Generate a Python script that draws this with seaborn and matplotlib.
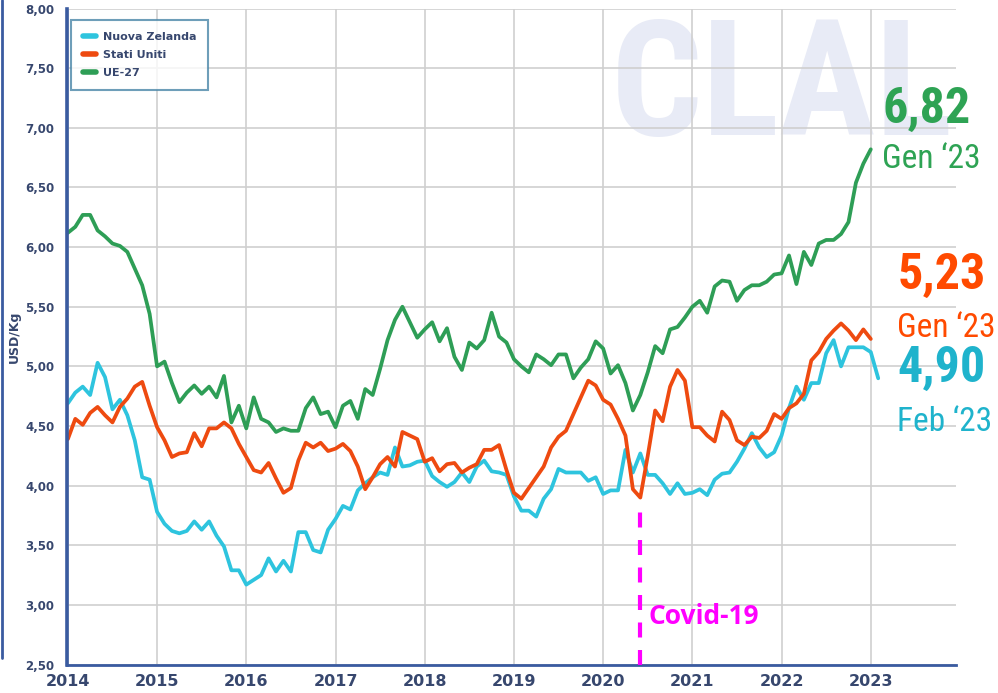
import numpy as np
import pandas as pd
import seaborn as sns
import matplotlib.pyplot as plt
from matplotlib.lines import Line2D

# monthly prices USD/Kg, Jan 2014 onwards
nz = [4.69, 4.78, 4.83, 4.76, 5.03, 4.91, 4.64, 4.72, 4.59, 4.38, 4.07, 4.05,
      3.78, 3.68, 3.62, 3.60, 3.62, 3.70, 3.63, 3.70, 3.58, 3.49, 3.29, 3.29,
      3.17, 3.21, 3.25, 3.39, 3.28, 3.37, 3.28, 3.61, 3.61, 3.46, 3.44, 3.63,
      3.72, 3.83, 3.80, 3.96, 4.02, 4.07, 4.11, 4.09, 4.32, 4.16, 4.17, 4.20,
      4.21, 4.08, 4.03, 3.99, 4.03, 4.11, 4.03, 4.16, 4.21, 4.12, 4.11, 4.09,
      3.91, 3.79, 3.79, 3.74, 3.89, 3.97, 4.14, 4.11, 4.11, 4.11, 4.04, 4.07,
      3.93, 3.96, 3.96, 4.30, 4.11, 4.27, 4.09, 4.09, 4.02, 3.93, 4.02, 3.93,
      3.94, 3.97, 3.92, 4.05, 4.10, 4.11, 4.20, 4.31, 4.44, 4.32, 4.24, 4.28,
      4.42, 4.65, 4.83, 4.72, 4.86, 4.86, 5.11, 5.22, 5.00, 5.16, 5.16, 5.16,
      5.12, 4.90]
us = [4.39, 4.56, 4.51, 4.61, 4.66, 4.59, 4.53, 4.66, 4.73, 4.83, 4.87, 4.67,
      4.49, 4.38, 4.24, 4.27, 4.28, 4.44, 4.33, 4.48, 4.48, 4.53, 4.48, 4.35,
      4.24, 4.13, 4.11, 4.19, 4.06, 3.94, 3.98, 4.21, 4.36, 4.32, 4.36, 4.29,
      4.31, 4.35, 4.29, 4.16, 3.97, 4.07, 4.18, 4.24, 4.16, 4.45, 4.42, 4.39,
      4.20, 4.23, 4.12, 4.18, 4.19, 4.11, 4.15, 4.18, 4.30, 4.30, 4.34, 4.13,
      3.94, 3.89, 3.98, 4.07, 4.16, 4.32, 4.41, 4.46, 4.60, 4.74, 4.88, 4.84,
      4.72, 4.68, 4.56, 4.42, 3.97, 3.90, 4.25, 4.63, 4.54, 4.83, 4.97, 4.88,
      4.49, 4.49, 4.42, 4.37, 4.62, 4.55, 4.38, 4.34, 4.41, 4.40, 4.46, 4.60,
      4.56, 4.65, 4.69, 4.77, 5.05, 5.12, 5.23, 5.30, 5.36, 5.30, 5.22, 5.31,
      5.23]
eu = [6.12, 6.17, 6.27, 6.27, 6.14, 6.09, 6.03, 6.01, 5.96, 5.82, 5.68, 5.44,
      5.00, 5.04, 4.86, 4.70, 4.78, 4.84, 4.77, 4.83, 4.74, 4.92, 4.53, 4.67,
      4.48, 4.74, 4.56, 4.53, 4.45, 4.48, 4.46, 4.46, 4.65, 4.74, 4.60, 4.62,
      4.49, 4.67, 4.71, 4.56, 4.81, 4.76, 4.98, 5.22, 5.39, 5.50, 5.37, 5.24,
      5.31, 5.37, 5.21, 5.32, 5.08, 4.97, 5.20, 5.15, 5.22, 5.45, 5.25, 5.20,
      5.06, 5.00, 4.95, 5.10, 5.06, 5.01, 5.10, 5.10, 4.90, 4.99, 5.06, 5.21,
      5.15, 4.94, 5.01, 4.86, 4.63, 4.76, 4.95, 5.17, 5.11, 5.31, 5.33, 5.41,
      5.50, 5.55, 5.45, 5.67, 5.72, 5.71, 5.55, 5.64, 5.68, 5.68, 5.71, 5.77,
      5.78, 5.93, 5.69, 5.96, 5.85, 6.03, 6.06, 6.06, 6.11, 6.21, 6.54, 6.70,
      6.82]
series_names = ['Nuova Zelanda', 'Stati Uniti', 'UE-27']
last_labels = ['Feb \u201823', 'Gen \u201823', 'Gen \u201823']
years = list(range(2014, 2024))
y_ticks = [2.5, 3.0, 3.5, 4.0, 4.5, 5.0, 5.5, 6.0, 6.5, 7.0, 7.5, 8.0]
covid_date = 2020 + 5 / 12
covid_top = 3.81

line_colors = {'Nuova Zelanda': '#2ec4de', 'Stati Uniti': '#ee4a10', 'UE-27': '#2e9e56'}
text_colors = {'Nuova Zelanda': '#1fb3cc', 'Stati Uniti': '#ff4a00', 'UE-27': '#2ea354'}
navy = '#37476e'
blue = '#3a5ba0'
narrow = ['Roboto Condensed', 'Liberation Sans Narrow', 'DejaVu Sans Condensed', 'Roboto']

frames = []
for name, vals in zip(series_names, [nz, us, eu]):
    t = 2014 + np.arange(len(vals)) / 12
    frames.append(pd.DataFrame({'date': t, 'price': vals, 'serie': name}))
df = pd.concat(frames, ignore_index=True)

sns.set_theme(style='white')
plt.rcParams['font.family'] = ['DejaVu Sans']

fig = plt.figure(figsize=(9.98, 6.93), dpi=100)
ax = fig.add_axes([0.0671, 0.0411, 0.8908, 0.9465])

# watermark
ax.text(0.612, 0.992, 'CLAL', transform=ax.transAxes, ha='left', va='top',
        family=narrow, fontstretch='condensed', fontweight='bold', fontsize=116,
        color='#e8ebf6', zorder=0.1)

sns.lineplot(data=df, x='date', y='price', hue='serie', hue_order=series_names,
             palette=line_colors, linewidth=2.7, ax=ax)

ax.set_xlim(2013.99, 2023.955)
ax.set_ylim(2.5, 8.0)
ax.set_xticks(years)
ax.set_xticklabels([str(y) for y in years])
ax.set_yticks(y_ticks)
ax.set_yticklabels([f'{v:.2f}'.replace('.', ',') for v in y_ticks])
ax.set_axisbelow(True)
ax.grid(True, color='#cfcfcf', linewidth=1.2)

for s in ['top', 'right']:
    ax.spines[s].set_visible(False)
ax.spines['left'].set_color(blue)
ax.spines['left'].set_linewidth(2.6)
ax.spines['bottom'].set_color(blue)
ax.spines['bottom'].set_linewidth(2)

ax.tick_params(axis='x', length=4, width=1.2, color=blue, pad=3,
               labelsize=11.5, labelcolor=navy)
ax.tick_params(axis='y', length=0, pad=9, labelsize=8.5, labelcolor=navy)
for lab in ax.get_xticklabels() + ax.get_yticklabels():
    lab.set_fontweight('bold')

ax.set_xlabel('')
ax.set_ylabel('USD/Kg', fontsize=9, fontweight='bold', color=navy)
ax.yaxis.set_label_coords(-0.052, 0.5)

# legend
sns.move_legend(ax, 'upper left', bbox_to_anchor=(0.004, 0.983), title=None,
                frameon=True, fancybox=False, fontsize=8, handlelength=1.2,
                handletextpad=0.6, labelspacing=0.72, borderpad=1.1,
                borderaxespad=0)
leg = ax.get_legend()
leg.get_frame().set_edgecolor('#4a86a8')
leg.get_frame().set_linewidth(1.5)
for h in leg.legend_handles:
    h.set_linewidth(4)
for t in leg.get_texts():
    t.set_color(navy)
    t.set_fontweight('bold')

# covid marker
ax.vlines(covid_date, 2.5, covid_top, colors='#ff00ff', linewidth=3,
          linestyles=(0, (3.6, 3)), zorder=3)
ax.annotate('Covid-19', (covid_date, 2.90), xytext=(6, 0), textcoords='offset points',
            va='center', ha='left', color='#ff00ff', fontsize=19,
            family='Open Sans', fontweight='bold')

# last values
pos = {'UE-27': (0.917, 0.825, 0.757),
       'Stati Uniti': (0.934, 0.572, 0.499),
       'Nuova Zelanda': (0.934, 0.431, 0.356)}
for name, vals, lab in zip(series_names, [nz, us, eu], last_labels):
    x, y1, y2 = pos[name]
    ax.text(x, y1, f'{vals[-1]:.2f}'.replace('.', ','), transform=ax.transAxes,
            ha='left', va='baseline', family=narrow, fontstretch='condensed',
            fontweight='bold', fontsize=36, color=text_colors[name], clip_on=False)
    ax.text(x, y2, lab, transform=ax.transAxes, ha='left', va='baseline',
            family=narrow, fontstretch='condensed', fontsize=24,
            color=text_colors[name], clip_on=False)

# outer frame line at left edge
fig.add_artist(Line2D([0.002, 0.002], [1.0, 1 - 658 / 693], color=blue,
                      linewidth=2, transform=fig.transFigure))

fig.savefig('out.png', dpi=100)
